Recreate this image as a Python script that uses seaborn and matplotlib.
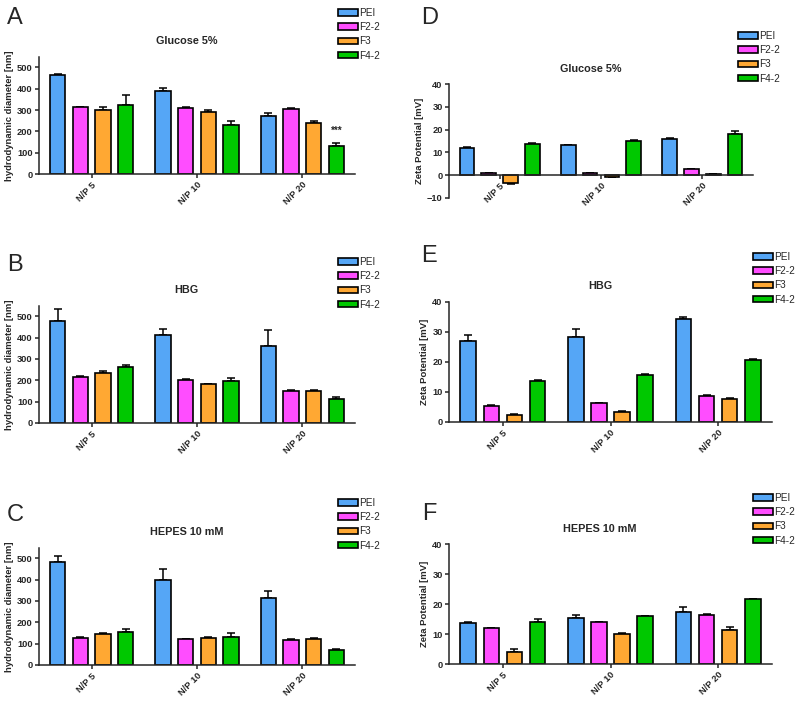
import matplotlib
matplotlib.use("Agg")
import matplotlib.pyplot as plt
import numpy as np
import pandas as pd
import seaborn as sns

categories = ["N/P 5", "N/P 10", "N/P 20"]
formulations = ["PEI", "F2-2", "F3", "F4-2"]
colors = ["#55a6f6", "#ff4dff", "#ffa833", "#00c800"]

# hydrodynamic diameter [nm], mean and upper SD per formulation (N/P 5, 10, 20)
size_glucose = {"PEI": [462, 389, 273], "F2-2": [312, 311, 306], "F3": [302, 289, 239], "F4-2": [325, 231, 131]}
size_glucose_sd = {"PEI": [8, 16, 13], "F2-2": [3, 2, 2], "F3": [10, 9, 11], "F4-2": [44, 17, 16]}
size_hbg = {"PEI": [478, 411, 359], "F2-2": [214, 203, 152], "F3": [234, 181, 152], "F4-2": [261, 198, 111]}
size_hbg_sd = {"PEI": [56, 28, 75], "F2-2": [5, 5, 2], "F3": [11, 3, 3], "F4-2": [11, 11, 11]}
size_hepes = {"PEI": [480, 397, 314], "F2-2": [127, 120, 119], "F3": [145, 128, 123], "F4-2": [153, 133, 72]}
size_hepes_sd = {"PEI": [32, 51, 34], "F2-2": [3, 2, 4], "F3": [3, 3, 2], "F4-2": [16, 19, 2]}

# zeta potential [mV]
zeta_glucose = {"PEI": [12.0, 13.1, 15.8], "F2-2": [0.8, 0.9, 2.7], "F3": [-3.7, -0.7, 0.4], "F4-2": [13.7, 15.2, 18.3]}
zeta_glucose_sd = {"PEI": [0.4, 0.3, 0.4], "F2-2": [0.2, 0.2, 0.1], "F3": [0.2, 0.1, 0.1], "F4-2": [0.2, 0.1, 1.3]}
zeta_hbg = {"PEI": [27.0, 28.3, 34.4], "F2-2": [5.4, 6.3, 8.8], "F3": [2.3, 3.4, 7.8], "F4-2": [13.8, 15.8, 20.7]}
zeta_hbg_sd = {"PEI": [2.0, 2.6, 0.7], "F2-2": [0.3, 0.1, 0.1], "F3": [0.3, 0.1, 0.2], "F4-2": [0.1, 0.3, 0.4]}
zeta_hepes = {"PEI": [13.7, 15.4, 17.3], "F2-2": [12.0, 14.0, 16.5], "F3": [3.9, 10.0, 11.5], "F4-2": [13.9, 16.0, 21.7]}
zeta_hepes_sd = {"PEI": [0.3, 1.0, 1.6], "F2-2": [0.1, 0.1, 0.3], "F3": [1.2, 0.4, 0.8], "F4-2": [1.1, 0.1, 0.1]}

sns.set_style("ticks")
plt.rcParams["font.family"] = ["Liberation Sans", "DejaVu Sans"]

fig = plt.figure(figsize=(8, 7.03), dpi=100)
W, H = 800, 703


def px_axes(left, top, right, bottom):
    return fig.add_axes([left / W, 1 - bottom / H, (right - left) / W, (bottom - top) / H])


def draw_panel(ax, values, sds, title, ylabel, ylim, yticks, letter, letter_xy, legend_xy, zero_axis=False):
    df = pd.DataFrame([(c, f, values[f][i]) for f in formulations for i, c in enumerate(categories)],
                      columns=["ratio", "formulation", "value"])
    sns.barplot(data=df, x="ratio", y="value", hue="formulation", hue_order=formulations,
                order=categories, palette=colors, width=0.86, gap=0.33, errorbar=None,
                edgecolor="black", linewidth=1.2, saturation=1, legend=False, ax=ax)
    for cont, f in zip(ax.containers, formulations):
        xs = [p.get_x() + p.get_width() / 2 for p in cont.patches]
        vals = np.array(values[f], dtype=float)
        sd = np.array(sds[f], dtype=float)
        lower = np.where(vals < 0, sd, 0)
        upper = np.where(vals >= 0, sd, 0)
        ax.errorbar(xs, vals, yerr=[lower, upper], fmt="none", ecolor="black",
                    elinewidth=1.1, capsize=3.2, capthick=1.1, zorder=0.5)
    ax.set_xlim(-0.5, 2.5)
    ax.set_ylim(*ylim)
    ax.set_yticks(yticks)
    ax.set_xlabel("")
    ax.set_ylabel(ylabel, fontsize=6.8, fontweight="bold", labelpad=2)
    ax.set_title(title, fontsize=7.8, fontweight="bold", x=0.467, pad=9)
    sns.despine(ax=ax)
    for s in ("left", "bottom"):
        ax.spines[s].set_linewidth(1.1)
    if zero_axis:
        ax.spines["bottom"].set_position(("data", 0))
    ax.tick_params(axis="both", direction="out", length=3, width=1.1, labelsize=6.7, pad=1.5)
    for lab in ax.get_yticklabels():
        lab.set_fontweight("bold")
    for lab in ax.get_xticklabels():
        lab.set_fontweight("bold")
        lab.set_rotation(45)
        lab.set_ha("right")
        lab.set_rotation_mode("anchor")
    fig.text(letter_xy[0] / W, 1 - letter_xy[1] / H, letter, fontsize=17, va="baseline", ha="left")
    ax.legend(ax.containers, formulations, loc="upper left",
              bbox_to_anchor=(legend_xy[0] / W, 1 - legend_xy[1] / H), bbox_transform=fig.transFigure,
              frameon=False, fontsize=7.2, handlelength=2.0, handleheight=0.65, handletextpad=0.1,
              labelspacing=0.42, borderpad=0, borderaxespad=0)


axA = px_axes(39, 56.7, 355, 174)
draw_panel(axA, size_glucose, size_glucose_sd, "Glucose 5%", "hydrodynamic diameter [nm]",
           (0, 550), [0, 100, 200, 300, 400, 500], "A", (7, 24), (338, 8))
xs_star = axA.containers[3].patches[2]
axA.annotate("***", (xs_star.get_x() + xs_star.get_width() / 2, size_glucose["F4-2"][2] + size_glucose_sd["F4-2"][2]),
             xytext=(0, 5), textcoords="offset points", ha="center", va="bottom", fontsize=7, fontweight="bold")

axB = px_axes(39, 305.5, 355, 423)
draw_panel(axB, size_hbg, size_hbg_sd, "HBG", "hydrodynamic diameter [nm]",
           (0, 550), [0, 100, 200, 300, 400, 500], "B", (7, 271), (338, 257))

axC = px_axes(39, 547.5, 355, 665)
draw_panel(axC, size_hepes, size_hepes_sd, "HEPES 10 mM", "hydrodynamic diameter [nm]",
           (0, 550), [0, 100, 200, 300, 400, 500], "C", (7, 521), (338, 498))

axD = px_axes(449, 84.3, 753, 197.7)
draw_panel(axD, zeta_glucose, zeta_glucose_sd, "Glucose 5%", "Zeta Potential [mV]",
           (-10, 40), [-10, 0, 10, 20, 30, 40], "D", (421, 24), (738, 31), zero_axis=True)

axE = px_axes(449, 302, 772, 422)
draw_panel(axE, zeta_hbg, zeta_hbg_sd, "HBG", "Zeta Potential [mV]",
           (0, 40), [0, 10, 20, 30, 40], "E", (421, 262), (753, 252))

axF = px_axes(449, 544.3, 772, 664)
draw_panel(axF, zeta_hepes, zeta_hepes_sd, "HEPES 10 mM", "Zeta Potential [mV]",
           (0, 40), [0, 10, 20, 30, 40], "F", (422, 520), (753, 493))

fig.savefig("out.png", dpi=100)
